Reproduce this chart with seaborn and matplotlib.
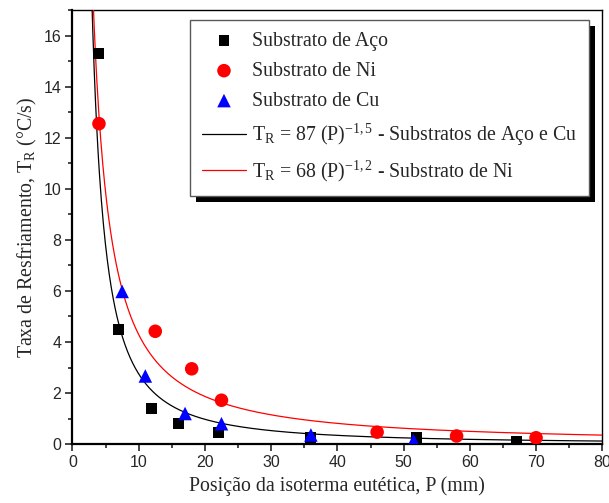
import numpy as np
import pandas as pd
import matplotlib
matplotlib.use("Agg")
import matplotlib.pyplot as plt
from matplotlib.patches import Rectangle
from matplotlib.transforms import IdentityTransform
from matplotlib.ticker import MultipleLocator
import seaborn as sns

# Measured cooling rates vs. eutectic isotherm position
p_aco = [4, 7, 12, 16, 22, 36, 52, 67]
tr_aco = [15.3, 4.48, 1.38, 0.80, 0.45, 0.27, 0.25, 0.09]

p_ni = [4, 12.5, 18, 22.5, 46, 58, 70]
tr_ni = [12.55, 4.42, 2.95, 1.72, 0.47, 0.32, 0.25]

p_cu = [7.5, 11, 17, 22.5, 36, 51.5]
tr_cu = [5.98, 2.67, 1.20, 0.80, 0.36, 0.14]

# Fitted power laws T_R = a * P^b
fit_aco_cu = (87, -1.5)
fit_ni = (68, -1.2)

sns.set_style("ticks")
plt.rcParams["font.family"] = ["Liberation Serif", "DejaVu Serif"]
plt.rcParams["mathtext.fontset"] = "custom"
plt.rcParams["mathtext.rm"] = "Liberation Serif"
plt.rcParams["mathtext.it"] = "Liberation Serif:italic"

fig = plt.figure(figsize=(6.09, 5.03), dpi=100)
ax = fig.add_axes([0.119, 0.117, 0.870, 0.863])

serif_px = 14.3
sns.scatterplot(x=p_aco, y=tr_aco, marker="s", color="black", s=62,
                edgecolor="none", label="Substrato de Aço", ax=ax, zorder=4)
sns.scatterplot(x=p_ni, y=tr_ni, marker="o", color="#ff0000", s=95,
                edgecolor="none", label="Substrato de Ni", ax=ax, zorder=4)
sns.scatterplot(x=p_cu, y=tr_cu, marker="^", color="#0000ff", s=95,
                edgecolor="none", label="Substrato de Cu", ax=ax, zorder=5)

p = np.linspace(1.0, 80, 800)
curve = pd.DataFrame({
    "P": p,
    "aco_cu": fit_aco_cu[0] * p ** fit_aco_cu[1],
    "ni": fit_ni[0] * p ** fit_ni[1],
})
sns.lineplot(data=curve, x="P", y="aco_cu", color="black", linewidth=0.9,
             label=r"T$_\mathregular{R}$ = 87 (P)$^\mathregular{-1,5}$ - Substratos de Aço e Cu",
             ax=ax, zorder=3, sort=False)
sns.lineplot(data=curve, x="P", y="ni", color="#ff0000", linewidth=0.9,
             label=r"T$_\mathregular{R}$ = 68 (P)$^\mathregular{-1,2}$ - Substrato de Ni",
             ax=ax, zorder=3, sort=False)

ax.set_xlim(0, 80)
ax.set_ylim(0, 17)
ax.xaxis.set_major_locator(MultipleLocator(10))
ax.xaxis.set_minor_locator(MultipleLocator(5))
ax.yaxis.set_major_locator(MultipleLocator(2))
ax.yaxis.set_minor_locator(MultipleLocator(1))
ax.tick_params(which="major", direction="out", length=5, width=1.2,
               labelsize=11.5, pad=3)
ax.tick_params(which="minor", direction="out", length=3, width=1.2)
for lab in ax.get_xticklabels() + ax.get_yticklabels():
    lab.set_family(["Liberation Sans", "DejaVu Sans"])

for side in ["left", "bottom"]:
    ax.spines[side].set_linewidth(1.6)
for side in ["top", "right"]:
    ax.spines[side].set_linewidth(1.0)
    ax.spines[side].set_visible(True)
for s in ax.spines.values():
    s.set_color("black")

ax.set_xlabel("Posição da isoterma eutética, P (mm)", fontsize=serif_px, labelpad=4)
ax.set_ylabel(r"Taxa de Resfriamento, T$_\mathregular{R}$ (°C/s)",
              fontsize=serif_px, labelpad=3)

leg = ax.legend(loc="upper left", bbox_to_anchor=(0.2213, 0.977),
                fontsize=serif_px, frameon=True, fancybox=False,
                edgecolor="0.35", framealpha=1, handlelength=2.25,
                handletextpad=0.3, borderpad=0.6, labelspacing=0.55,
                borderaxespad=0)
leg.get_frame().set_linewidth(1.0)
leg.set_zorder(10)

# Solid drop shadow behind the legend box
fig.canvas.draw()
bb = leg.get_window_extent()
off = 6
shadow = Rectangle((bb.x0 + off, bb.y0 - off), bb.width, bb.height,
                   transform=IdentityTransform(), facecolor="black",
                   edgecolor="none", zorder=9, clip_on=False)
ax.add_artist(shadow)

fig.savefig("out.png", dpi=100)
